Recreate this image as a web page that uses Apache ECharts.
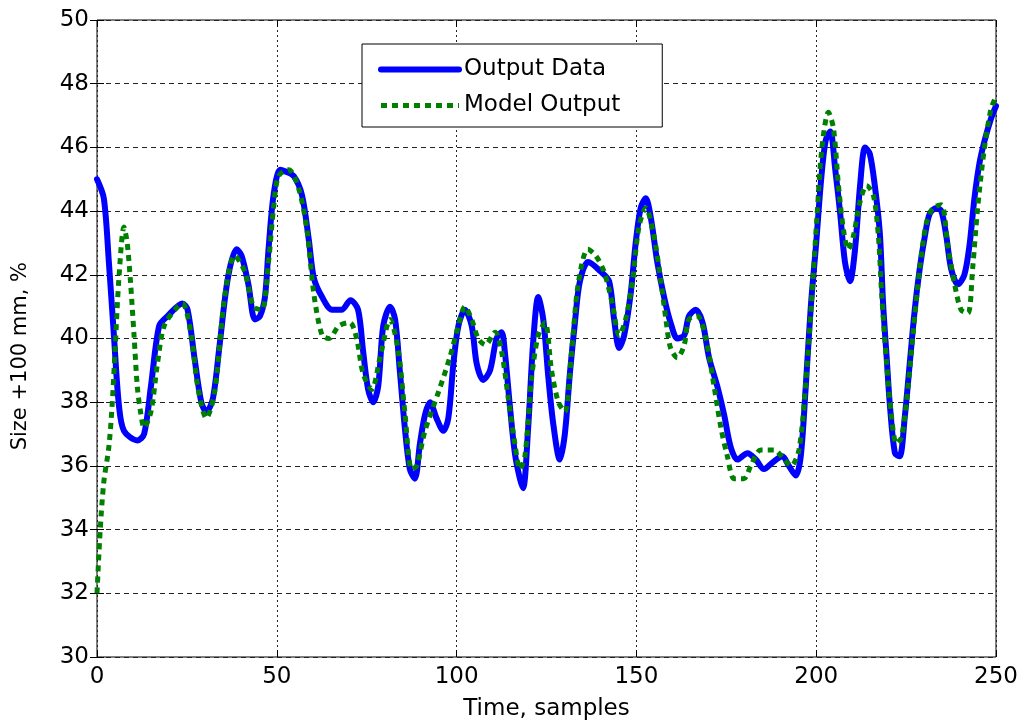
<!DOCTYPE html>
<html>
<head>
<meta charset="utf-8">
<script src="https://cdn.jsdelivr.net/npm/echarts@6/dist/echarts.min.js"></script>
<style>html,body{margin:0;padding:0;background:#fff;}#c{width:1028px;height:726px;}</style>
</head>
<body>
<div id="c"></div>
<script>
var blueX = [0,1.9,3.3,4.7,6.1,7.5,11.2,13.1,15,17.3,19.6,23.8,25.2,27.1,29,30.4,32.2,34.1,36.4,38.8,40.2,42.1,43.9,45.3,46.7,47.7,49.1,50.9,52.3,54.7,57,58.9,60.3,62.6,65.4,68,70.5,72.6,74,75.4,76.8,78.2,79.6,81.5,82.9,84.2,85.6,87,88.4,89.8,91.2,92.6,94.4,96.3,97.7,99.1,100.5,102.3,104.2,105.6,107.4,109.3,111.1,112.5,113.4,114.8,116.2,117.6,118.5,119.9,121.3,122.7,124.1,125.5,126.9,128.7,130.1,131.5,132.9,134.3,136.6,140.1,142.4,143.8,145.2,146.6,148.4,149.8,151.2,152.6,154,155.8,157.7,159.5,161.4,163.3,164.6,166.5,168.4,170.2,172.5,174.4,176.2,178.1,180.9,183.2,185.5,187.8,190.6,192.4,194.3,195.7,197.1,198.5,200,201.3,202.6,203.9,205.3,206.6,208,209.4,210.8,212.2,213.6,214.9,216.3,217.7,218.6,219.6,220.5,221.9,223.2,224.6,226,227.4,228.8,230.2,231.5,233.4,234.8,236.2,237.5,239.4,241.2,242.6,244,245.4,246.8,248.6,250];
var blueY = [45.0,44.4,42.4,40.1,37.9,37.1,36.8,37.0,38.5,40.4,40.7,41.1,40.9,39.4,38.0,37.7,38.1,39.8,41.9,42.8,42.6,41.7,40.6,40.7,41.3,42.8,44.5,45.3,45.25,45.1,44.5,43.1,41.9,41.3,40.9,40.9,41.2,40.9,39.6,38.4,38.0,38.5,40.4,41.0,40.6,39.0,37.2,35.9,35.6,36.7,37.6,38.0,37.5,37.1,37.5,39.2,40.4,40.9,40.4,39.2,38.7,39.0,40.0,40.2,39.6,37.9,36.4,35.6,35.3,37.2,39.9,41.3,40.6,38.8,37.3,36.2,37.0,38.9,40.5,41.8,42.4,42.1,41.8,40.6,39.7,40.1,41.4,43.0,44.1,44.4,43.8,42.4,41.3,40.5,40.0,40.1,40.7,40.9,40.5,39.4,38.5,37.6,36.6,36.2,36.4,36.2,35.9,36.1,36.3,36.0,35.7,36.3,38.5,41.0,43.0,44.9,46.2,46.5,45.3,44.0,42.4,41.8,42.8,44.8,46.0,45.8,44.8,43.3,41.1,39.4,37.9,36.4,36.3,37.5,39.2,40.9,42.2,43.2,43.9,44.1,44.0,43.2,42.2,41.7,42.0,42.9,44.4,45.5,46.2,46.9,47.3];
var greenX = [0,0.9,1.9,3.3,4.2,5.1,6.1,7.5,8.4,9.3,10.3,11.2,12.1,13.1,15,16.8,18.7,22.4,23.8,26.2,28,30.4,32.7,35.5,38.3,41.1,43.5,45.8,47.7,49.1,50.5,53.3,56.1,58.4,60.3,62.6,64.5,67.3,70.3,72.2,74,76.4,78.7,81.5,83.8,85.6,87.5,88.9,91.2,94.9,98.1,100.5,102.3,104.2,106,108,110.7,112.5,114.4,116.2,117.6,119,120.9,122.7,124.6,126.4,128.3,130.1,132,133.8,136.5,138.7,141,143.3,145.2,147,148.9,150.7,152.6,154.9,156.8,158.2,159.5,161.4,163.3,164.6,167,169.3,171.6,173.5,175.3,177.2,179.9,181.8,184.6,188.3,191.1,193,195.2,197.1,198.6,200.2,201.6,203.4,204.8,206.2,207.6,208.9,210.3,212.2,214,215.9,217.3,218.2,219.6,220.9,222.3,223.7,225.1,226.9,228.8,230.6,232.5,234.8,236.6,238.5,240.3,242.2,243.5,244.9,246.8,248.6,250];
var greenY = [32.0,34.0,35.5,36.6,37.9,39.8,41.9,43.5,43.0,41.8,40.1,38.5,37.7,37.2,37.7,39.2,40.4,41.0,41.1,40.1,38.5,37.5,38.3,41.3,42.6,42.1,41.0,40.9,42.4,44.1,45.1,45.3,44.7,43.4,41.4,40.1,40.0,40.4,40.5,40.0,38.9,38.4,39.4,40.6,39.6,37.7,35.9,36.0,37.1,38.3,39.4,40.4,41.0,40.6,40.0,39.8,40.2,39.6,38.1,36.7,35.9,36.3,38.8,40.1,40.5,39.0,38.0,37.7,39.6,41.7,42.8,42.6,42.1,41.1,40.1,40.6,41.8,43.5,44.1,43.2,41.8,40.6,39.7,39.4,39.8,40.6,40.7,40.0,38.5,37.2,36.3,35.6,35.6,36.0,36.5,36.5,36.2,36.0,36.5,38.6,41.0,43.8,46.0,47.1,46.6,44.8,43.4,42.8,43.2,44.3,44.8,44.5,43.2,41.4,39.2,37.6,36.7,36.9,38.0,40.1,42.2,43.6,44.1,44.2,42.9,41.7,40.9,40.8,42.2,44.1,46.0,47.2,47.6];
var xTicks = [0, 50, 100, 150, 200, 250];
var yTicks = [30, 32, 34, 36, 38, 40, 42, 44, 46, 48, 50];
var seriesNames = ['Output Data', 'Model Output'];
var xName = 'Time, samples';
var yName = 'Size +100 mm, %';

function pairs(xs, ys) { return xs.map(function (x, i) { return [x, ys[i]]; }); }

var FONT = 'DejaVu Sans';
var chart = echarts.init(document.getElementById('c'), null, { renderer: 'canvas' });
chart.setOption({
  backgroundColor: '#fff',
  animation: false,
  grid: { left: 97, right: 32, top: 20, bottom: 69, show: true, borderColor: '#000', borderWidth: 1, backgroundColor: 'transparent' },
  legend: {
    orient: 'vertical', left: 362, top: 44,
    data: [
      { name: seriesNames[0], itemStyle: { opacity: 0 }, lineStyle: { width: 6, color: '#0000ff' } },
      { name: seriesNames[1], itemStyle: { opacity: 0 }, lineStyle: { width: 5, color: '#008000', type: [6, 5] } }
    ],
    backgroundColor: '#fff', borderColor: '#000', borderWidth: 1,
    padding: [14, 42, 10, 16], itemGap: 13,
    itemWidth: 78, itemHeight: 24,
    textStyle: { fontFamily: FONT, fontSize: 23, color: '#000' }
  },
  graphic: [{
    type: 'text', left: 10, top: 262,
    style: { text: yName, fontFamily: FONT, fontSize: 21, fill: '#000' },
    rotation: Math.PI / 2,
    originX: 0, originY: 0
  }],
  xAxis: [{
    type: 'value', min: xTicks[0], max: xTicks[xTicks.length - 1], interval: 50,
    name: xName, nameLocation: 'middle', nameGap: 41,
    nameTextStyle: { fontFamily: FONT, fontSize: 23, color: '#000' },
    axisLine: { show: false },
    axisTick: { show: true, inside: true, length: 7, lineStyle: { color: '#000' } },
    axisLabel: { fontFamily: FONT, fontSize: 23, color: '#000', margin: 9 },
    splitLine: { show: true, lineStyle: { color: '#222', width: 1, type: [2, 3] } }
  }, {
    type: 'value', position: 'top', min: xTicks[0], max: xTicks[xTicks.length - 1], interval: 50,
    axisLine: { show: false }, axisLabel: { show: false }, splitLine: { show: false },
    axisTick: { show: true, inside: true, length: 7, lineStyle: { color: '#000' } }
  }],
  yAxis: [{
    type: 'value', min: yTicks[0], max: yTicks[yTicks.length - 1], interval: 2,
    axisLine: { show: false },
    axisTick: { show: true, inside: true, length: 7, lineStyle: { color: '#000' } },
    axisLabel: { fontFamily: FONT, fontSize: 23, color: '#000', margin: 8 },
    splitLine: { show: true, lineStyle: { color: '#222', width: 1, type: [5, 4] } }
  }, {
    type: 'value', position: 'right', min: yTicks[0], max: yTicks[yTicks.length - 1], interval: 2,
    axisLine: { show: false }, axisLabel: { show: false }, splitLine: { show: false },
    axisTick: { show: true, inside: true, length: 7, lineStyle: { color: '#000' } }
  }],
  series: [{
    name: seriesNames[0], type: 'line', smooth: 0.3, showSymbol: false, symbol: 'none',
    data: pairs(blueX, blueY),
    lineStyle: { color: '#0000ff', width: 6, cap: 'round', join: 'round' },
    itemStyle: { color: '#0000ff' }, z: 3
  }, {
    name: seriesNames[1], type: 'line', smooth: 0.3, showSymbol: false, symbol: 'none',
    data: pairs(greenX, greenY),
    lineStyle: { color: '#008000', width: 5, type: [6, 5], cap: 'butt' },
    itemStyle: { color: '#008000' }, z: 4
  }]
});
</script>
</body>
</html>
